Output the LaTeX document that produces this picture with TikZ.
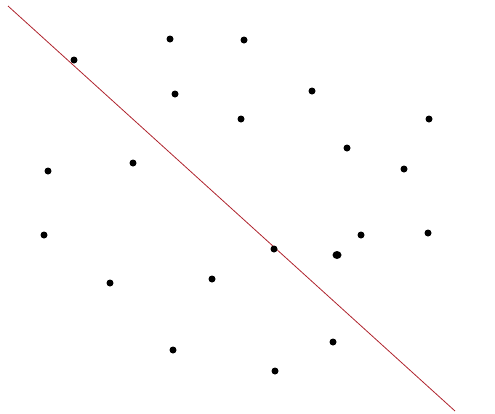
\documentclass[tikz,border=0pt]{standalone}
\usetikzlibrary{shapes.geometric}
\definecolor{lred}{RGB}{175,35,45}
\begin{document}
\begin{tikzpicture}[x=1pt,y=-1pt,
  dot/.style={circle,fill=black,inner sep=0pt,minimum size=7pt},
  bigdot/.style={ellipse,fill=black,inner sep=0pt,minimum width=9pt,minimum height=8pt},
  sep/.style={draw=lred,line width=0.8pt}]
\useasboundingbox (0,0) rectangle (495,413);
\coordinate (s) at (8,6);
\coordinate (e) at (455,411);
\draw[sep] (s) -- (e);
\foreach \n/\x/\y in {a/74/60, b/170/39, c/244/40, d/175/94, e2/312/91, f/241/119,
  g/429/119, h/347/148, i/133/163, j/48/171, k/404/169, l/44/235, m/274/249,
  n/361/235, o/428/233, q/110/283, r/212/279, t/333/342, u/173/350, v/275/371}
  \node[dot] (\n) at (\x,\y) {};
\node[bigdot] (p) at (337,255) {};
\end{tikzpicture}
\end{document}
